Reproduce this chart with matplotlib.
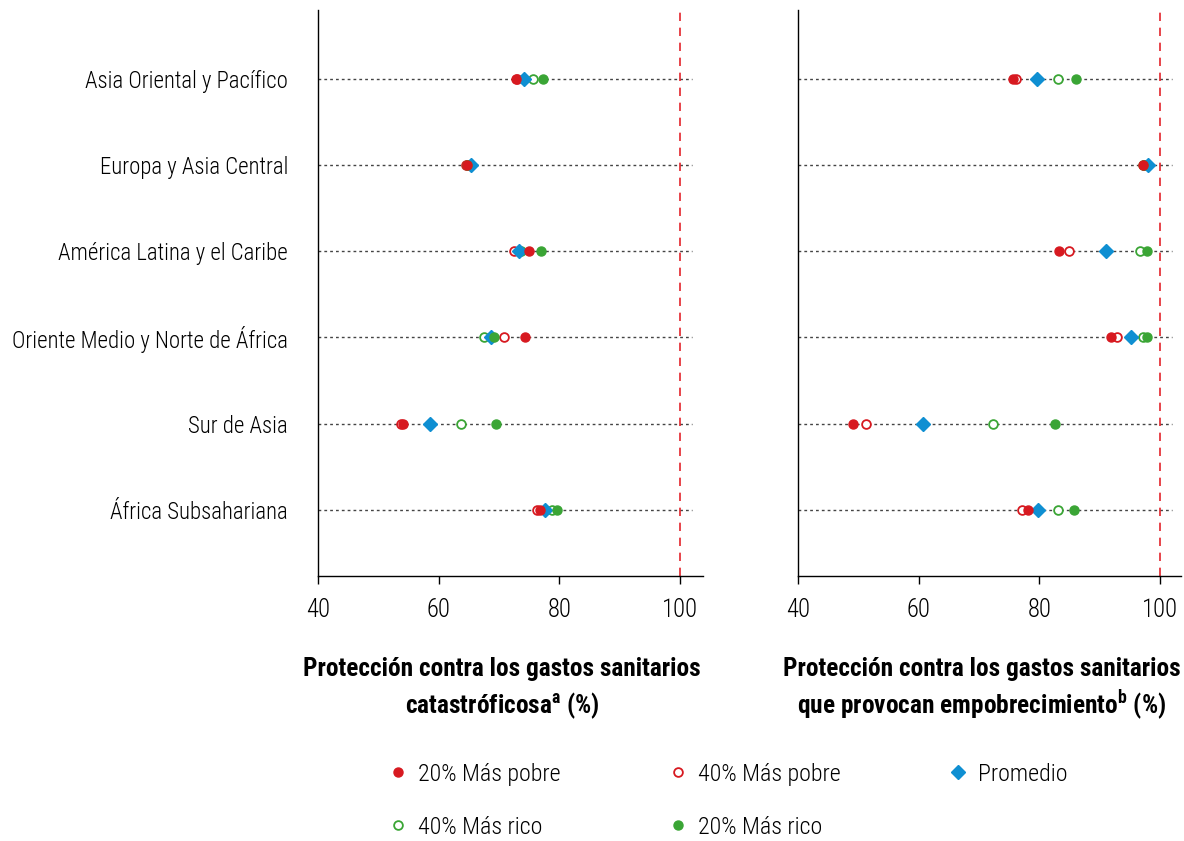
import matplotlib
matplotlib.use("Agg")
import matplotlib.pyplot as plt
from matplotlib.lines import Line2D
from matplotlib import font_manager as fm

# ---- font choice (condensed if available) ----
entries = fm.fontManager.ttflist
names = {f.name for f in entries}
FAM, STRETCH = 'Liberation Sans', 'normal'
if 'Liberation Sans Narrow' in names:
    FAM, STRETCH = 'Liberation Sans Narrow', 'normal'
elif 'Roboto Condensed' in names:
    FAM, STRETCH = 'Roboto Condensed', 'normal'
elif any(f.name == 'DejaVu Sans' and str(f.stretch) in ('condensed', 'semi-condensed') for f in entries):
    FAM, STRETCH = 'DejaVu Sans', 'condensed'
plt.rcParams['font.family'] = [FAM, 'DejaVu Sans']
plt.rcParams['font.stretch'] = STRETCH
plt.rcParams['mathtext.fontset'] = 'custom'
plt.rcParams['mathtext.rm'] = FAM
plt.rcParams['mathtext.bf'] = FAM + ':bold'
LIGHT = 300

regions = ["Asia Oriental y Pacífico", "Europa y Asia Central", "América Latina y el Caribe",
           "Oriente Medio y Norte de África", "Sur de Asia", "África Subsahariana"]

# Left panel: catastrophic
cat_pobre20 = [72.8, 64.7, 75.0, 74.3, 54.1, 76.8]
cat_pobre40 = [73.0, 64.6, 72.5, 70.8, 53.8, 76.3]
cat_prom = [74.1, 65.3, 73.3, 68.7, 58.6, 77.6]
cat_rico40 = [75.6, 64.8, 73.6, 67.5, 63.7, 78.8]
cat_rico20 = [77.3, 64.7, 76.9, 69.2, 69.5, 79.6]

# Right panel: impoverishing
emp_pobre20 = [75.6, 97.2, 83.3, 91.9, 49.1, 78.1]
emp_pobre40 = [76.1, 97.3, 84.9, 92.8, 51.2, 77.1]
emp_prom = [79.6, 98.0, 91.1, 95.2, 60.7, 79.8]
emp_rico40 = [83.1, 97.4, 96.7, 97.2, 72.3, 83.1]
emp_rico20 = [86.1, 97.2, 97.9, 97.9, 82.6, 85.7]

xticks = [40, 60, 80, 100]
labels = ["20% Más pobre", "40% Más pobre", "Promedio", "40% Más rico", "20% Más rico"]
title_l = ["Protección contra los gastos sanitarios", r"catastróficosa$^{\mathbf{a}}$ (%)"]
title_r = ["Protección contra los gastos sanitarios", r"que provocan empobrecimiento$^{\mathbf{b}}$ (%)"]

RED = '#d71920'
BLUE = '#0f8fd2'
GREEN = '#3aa535'
MS_F, MS_O, MS_D, MEW = 6.5, 6.3, 7.6, 1.3

fig = plt.figure(figsize=(11.84, 8.41), dpi=100)
renderer = fig.canvas.get_renderer()

def measure(s, fs, weight):
    t = fig.text(0, 0, s, fontsize=fs, fontweight=weight)
    w = t.get_window_extent(renderer).width
    t.remove()
    return w

def fit_size(s, target_px, weight=LIGHT):
    return 20 * target_px / measure(s, 20, weight)

FS_LAB = fit_size("Oriente Medio y Norte de África", 276)
FS_TICK = fit_size("100", 36)
FS_BOLD = fit_size("Protección contra los gastos sanitarios", 398, 'bold')
FS_LEG = fit_size("20% Más pobre", 143)

axL = fig.add_axes([318/1184, 1-576/841, (703-318)/1184, (576-10)/841])
axR = fig.add_axes([798/1184, 1-576/841, (1181-798)/1184, (576-10)/841])

ypos = list(range(len(regions)))

def draw(ax, p20, p40, prom, r40, r20, xmax):
    for y in ypos:
        ax.plot([40, 102], [y, y], color='#444444', lw=1.0, ls=(0, (2, 2.2)), zorder=1)
    ax.axvline(100, color='#e3242b', lw=1.2, ls=(0, (5, 4)), zorder=1)
    ax.plot(p40, ypos, 'o', ls='none', ms=MS_O, mfc='white', mec=RED, mew=MEW, zorder=3)
    ax.plot(r40, ypos, 'o', ls='none', ms=MS_O, mfc='white', mec=GREEN, mew=MEW, zorder=3)
    ax.plot(prom, ypos, 'D', ls='none', ms=MS_D, color=BLUE, mec=BLUE, zorder=4)
    ax.plot(r20, ypos, 'o', ls='none', ms=MS_F, color=GREEN, zorder=5)
    ax.plot(p20, ypos, 'o', ls='none', ms=MS_F, color=RED, zorder=6)
    ax.set_xlim(40, xmax)
    ax.set_ylim(5.77, -0.8)
    ax.set_xticks(xticks)
    ax.tick_params(axis='x', labelsize=FS_TICK, length=6, width=1, direction='out', pad=10)
    for lbl in ax.get_xticklabels():
        lbl.set_fontweight(LIGHT)
    ax.spines['top'].set_visible(False)
    ax.spines['right'].set_visible(False)
    ax.spines['left'].set_linewidth(1.0)
    ax.spines['bottom'].set_linewidth(1.0)

draw(axL, cat_pobre20, cat_pobre40, cat_prom, cat_rico40, cat_rico20, 40 + (703-318)/6.033)
draw(axR, emp_pobre20, emp_pobre40, emp_prom, emp_rico40, emp_rico20, 40 + (1181-798)/6.033)

axL.set_yticks(ypos)
axL.set_yticklabels(regions, fontsize=FS_LAB, fontweight=LIGHT)
axL.tick_params(axis='y', length=0, pad=30 * 72 / 100)
axR.set_yticks([])

for cx, lines in ((502, title_l), (982, title_r)):
    fig.text(cx/1184, 1-669/841, lines[0], ha='center', va='center', fontsize=FS_BOLD, fontweight='bold')
    fig.text(cx/1184, 1-706/841, lines[1], ha='center', va='center', fontsize=FS_BOLD, fontweight='bold')

h = [
    Line2D([], [], marker='o', ls='none', ms=MS_F, color=RED),
    Line2D([], [], marker='o', ls='none', ms=MS_O, mfc='white', mec=GREEN, mew=MEW),
    Line2D([], [], marker='o', ls='none', ms=MS_O, mfc='white', mec=RED, mew=MEW),
    Line2D([], [], marker='o', ls='none', ms=MS_F, color=GREEN),
    Line2D([], [], marker='D', ls='none', ms=MS_D, color=BLUE),
]
lab = [labels[0], labels[3], labels[1], labels[4], labels[2]]

em = FS_LEG * 100 / 72
HL = 1.0
PAD = (20 - HL * em / 2) / em
w1 = measure(labels[0], FS_LEG, LIGHT)
CS = (280 - HL * em - PAD * em - w1) / em
LS = (54 - 1.0 * em) / em
leg = fig.legend(h, lab, loc='upper left',
                 bbox_to_anchor=((398 - HL * em / 2) / 1184, 1 - (776 - 0.55 * em) / 841),
                 ncol=3, frameon=False, fontsize=FS_LEG, handlelength=HL, handletextpad=PAD,
                 columnspacing=CS, labelspacing=LS, borderpad=0, borderaxespad=0)
for txt in leg.get_texts():
    txt.set_fontweight(LIGHT)

fig.savefig("out.png", dpi=100)
